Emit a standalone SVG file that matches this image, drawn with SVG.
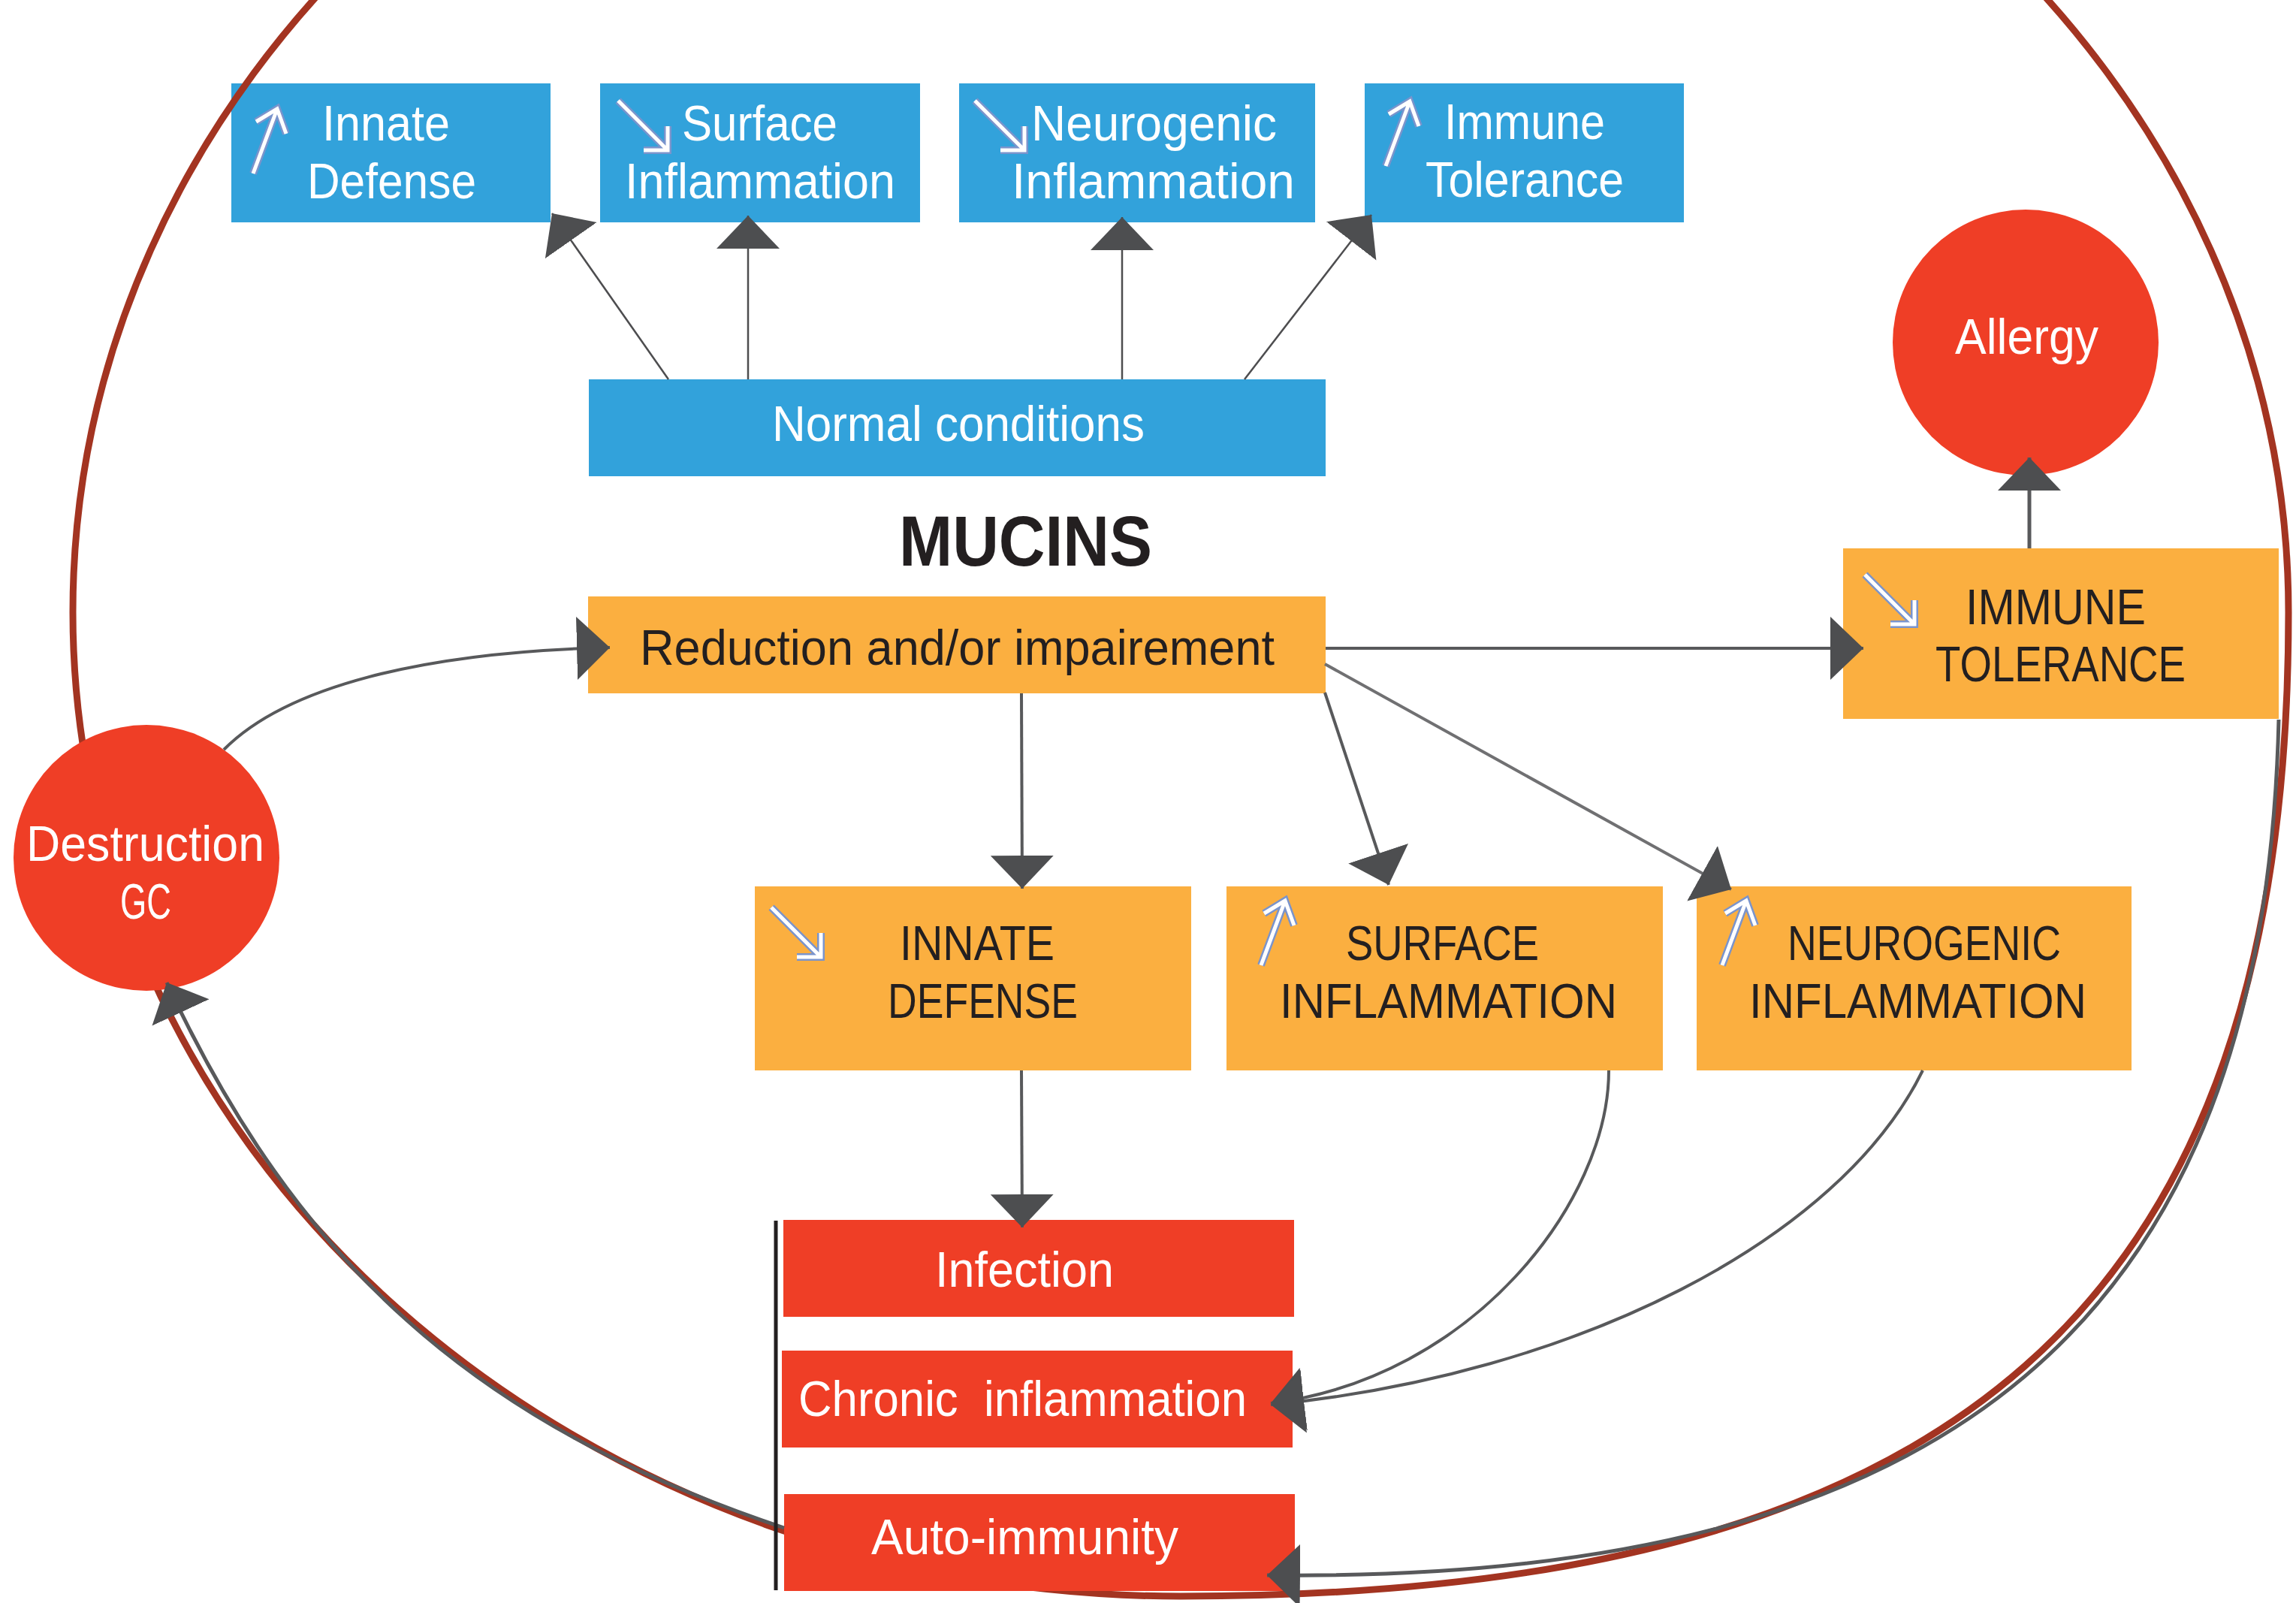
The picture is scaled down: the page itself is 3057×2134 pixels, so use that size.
<svg xmlns="http://www.w3.org/2000/svg" width="3057" height="2134" viewBox="0 0 3057 2134">
<defs>
<style>
.blue{fill:#32A2DB}
.orange{fill:#FBAF40}
.red{fill:#EF3E26}
text{font-family:'Liberation Sans',Arial,sans-serif}
.w{fill:#fff;font-size:66px}
.k{fill:#231F20;font-size:66px}
.cap{fill:#231F20;font-size:64px}
.conn{fill:none;stroke:#58595B;stroke-width:4}
.thin{stroke-width:2.5;stroke:#4D4D4F}
.cycle{fill:none;stroke:#A33421;stroke-width:9}
.ico1{fill:none;stroke:#7A94CC;stroke-width:10}
.ico2{fill:none;stroke:#fff;stroke-width:5}
</style>
<marker id="ah" markerUnits="userSpaceOnUse" markerWidth="46" markerHeight="86" viewBox="0 0 46 86" refX="44" refY="43" orient="auto"><path d="M0,1 L44,43 L0,85 Z" fill="#4D4E50"/></marker>
<g id="up"><path class="ico1" d="M-32,86 L0,0 M-28,17 L0,0 L12,33"/><path class="ico2" d="M-32,86 L0,0 M-28,17 L0,0 L12,33"/></g>
<g id="dn"><path class="ico1" d="M-66,-66 L0,0 M-32,0 L0,0 L0,-32"/><path class="ico2" d="M-66,-66 L0,0 M-32,0 L0,0 L0,-32"/></g>
</defs>
<rect width="3057" height="2134" fill="#fff"/>

<g id="n-innate-blue">
<rect class="blue" x="308" y="111" width="425" height="185"/>
<use href="#up" x="369" y="145"/>
<text class="w" x="429" y="187" textLength="170" lengthAdjust="spacingAndGlyphs">Innate</text>
<text class="w" x="409" y="264" textLength="225" lengthAdjust="spacingAndGlyphs">Defense</text>
</g>
<g id="n-surface-blue">
<rect class="blue" x="799" y="111" width="426" height="185"/>
<use href="#dn" x="889" y="200"/>
<text class="w" x="908" y="187" textLength="207" lengthAdjust="spacingAndGlyphs">Surface</text>
<text class="w" x="832" y="264" textLength="360" lengthAdjust="spacingAndGlyphs">Inflammation</text>
</g>
<g id="n-neuro-blue">
<rect class="blue" x="1277" y="111" width="474" height="185"/>
<use href="#dn" x="1364" y="200"/>
<text class="w" x="1373" y="187" textLength="327" lengthAdjust="spacingAndGlyphs">Neurogenic</text>
<text class="w" x="1347" y="264" textLength="377" lengthAdjust="spacingAndGlyphs">Inflammation</text>
</g>
<g id="n-immune-blue">
<rect class="blue" x="1817" y="111" width="425" height="185"/>
<use href="#up" x="1877" y="135"/>
<text class="w" x="1923" y="185" textLength="214" lengthAdjust="spacingAndGlyphs">Immune</text>
<text class="w" x="1898" y="262" textLength="264" lengthAdjust="spacingAndGlyphs">Tolerance</text>
</g>

<g id="cycle-ring">
<path class="cycle" d="M1572,2125 A1475,1310 0 1 1 3047,815 C3047,1745 2602,2125 1572,2125"/>
</g>

<g id="n-normal">
<rect class="blue" x="784" y="505" width="981" height="129"/>
<text class="w" x="1028" y="587" textLength="496" lengthAdjust="spacingAndGlyphs">Normal conditions</text>
</g>
<g id="n-mucins">
<text x="1197" y="753" font-size="95" font-weight="bold" fill="#231F20" textLength="337" lengthAdjust="spacingAndGlyphs">MUCINS</text>
</g>
<g id="n-reduction">
<rect class="orange" x="783" y="794" width="982" height="129"/>
<text class="k" x="852" y="885" textLength="845" lengthAdjust="spacingAndGlyphs">Reduction and/or impairement</text>
</g>
<g id="n-immune-orange">
<rect class="orange" x="2454" y="730" width="580" height="227"/>
<use href="#dn" x="2549" y="831"/>
<text class="k" font-size="67" x="2617" y="831" textLength="240" lengthAdjust="spacingAndGlyphs">IMMUNE</text>
<text class="k" font-size="67" x="2577" y="907" textLength="333" lengthAdjust="spacingAndGlyphs">TOLERANCE</text>
</g>
<g id="n-allergy">
<circle class="red" cx="2697" cy="456" r="177"/>
<text class="w" font-size="68" x="2603" y="471" textLength="191" lengthAdjust="spacingAndGlyphs">Allergy</text>
</g>
<g id="n-destruction">
<circle class="red" cx="195" cy="1142" r="177"/>
<text class="w" font-size="68" x="35" y="1146" textLength="317" lengthAdjust="spacingAndGlyphs">Destruction</text>
<text class="w" font-size="68" x="160" y="1223" textLength="68" lengthAdjust="spacingAndGlyphs">GC</text>
</g>
<g id="n-innate-orange">
<rect class="orange" x="1005" y="1180" width="581" height="245"/>
<use href="#dn" x="1093" y="1274"/>
<text class="cap" x="1198" y="1278" textLength="206" lengthAdjust="spacingAndGlyphs">INNATE</text>
<text class="cap" x="1182" y="1355" textLength="253" lengthAdjust="spacingAndGlyphs">DEFENSE</text>
</g>
<g id="n-surface-orange">
<rect class="orange" x="1633" y="1180" width="581" height="245"/>
<use href="#up" x="1711" y="1199"/>
<text class="cap" x="1792" y="1278" textLength="257" lengthAdjust="spacingAndGlyphs">SURFACE</text>
<text class="cap" x="1704" y="1355" textLength="449" lengthAdjust="spacingAndGlyphs">INFLAMMATION</text>
</g>
<g id="n-neuro-orange">
<rect class="orange" x="2259" y="1180" width="579" height="245"/>
<use href="#up" x="2325" y="1199"/>
<text class="cap" x="2380" y="1278" textLength="364" lengthAdjust="spacingAndGlyphs">NEUROGENIC</text>
<text class="cap" x="2329" y="1355" textLength="449" lengthAdjust="spacingAndGlyphs">INFLAMMATION</text>
</g>
<g id="n-infection">
<rect class="red" x="1043" y="1624" width="680" height="129"/>
<text class="w" x="1245" y="1713" textLength="238" lengthAdjust="spacingAndGlyphs">Infection</text>
</g>
<g id="n-chronic">
<rect class="red" x="1041" y="1798" width="680" height="129"/>
<text class="w" x="1063" y="1885" textLength="597" lengthAdjust="spacingAndGlyphs" style="white-space:pre">Chronic  inflammation</text>
</g>
<g id="n-auto">
<rect class="red" x="1044" y="1989" width="680" height="129"/>
<text class="w" x="1160" y="2069" textLength="409" lengthAdjust="spacingAndGlyphs">Auto-immunity</text>
</g>

<g id="connectors">
<path class="conn thin" d="M890,505 L735,284" marker-end="url(#ah)"/>
<path class="conn thin" d="M996,505 L996,287" marker-end="url(#ah)"/>
<path class="conn thin" d="M1494,505 L1494,289" marker-end="url(#ah)"/>
<path class="conn thin" d="M1657,505 L1826,286" marker-end="url(#ah)"/>
<path class="conn" d="M1360,923 L1361,1183" marker-end="url(#ah)"/>
<path class="conn" d="M1764,922 L1849,1178" marker-end="url(#ah)"/>
<path class="conn" d="M1764,884 L2305,1184" style="stroke:#707072" marker-end="url(#ah)"/>
<path class="conn" d="M1765,863 L2481,863" marker-end="url(#ah)"/>
<path class="conn" d="M2702,730 L2702,609" style="stroke-width:5" marker-end="url(#ah)"/>
<path class="conn" d="M298,998 C380,915 560,868 812,862" marker-end="url(#ah)"/>
<path class="conn" d="M1360,1425 L1361,1634" marker-end="url(#ah)"/>
<path class="conn" d="M2142,1425 C2142,1600 1960,1835 1692,1868" marker-end="url(#ah)"/>
<path class="conn" d="M2560,1425 C2450,1650 2100,1830 1692,1870" marker-end="url(#ah)"/>
<path class="conn" d="M3034,958 C3015,1760 2600,2108 1687,2097" style="stroke-width:5" marker-end="url(#ah)"/>
<path class="conn" d="M1044,2034 C631,1896 395,1680 222,1308" style="stroke-width:5" marker-end="url(#ah)"/>
</g>

<g id="bracket">
<line x1="1033" y1="1625" x2="1033" y2="2117" stroke="#231F20" stroke-width="5"/>
</g>
</svg>
